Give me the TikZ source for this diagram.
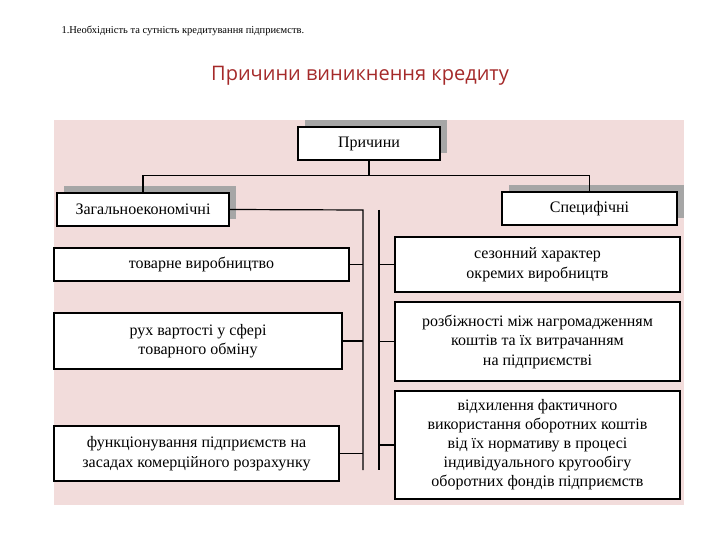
\documentclass[tikz,border=0pt]{standalone}
\usepackage{fontspec}
\setmainfont{Liberation Serif}
\newfontfamily\titlefont{Open Sans}
\definecolor{bgpink}{HTML}{F2DCDB}
\definecolor{shad}{HTML}{A6A6A6}
\definecolor{ttl}{HTML}{A52A2A}
\begin{document}
\begin{tikzpicture}[x=1pt,y=-1pt,
  bx/.style={draw=black,line width=1.2pt,fill=white,align=center,font=\fontsize{16}{19.5}\selectfont,inner sep=0pt},
  ln/.style={line width=1.2pt}]
\useasboundingbox (0,0) rectangle (720,540);
\fill[white] (0,0) rectangle (720,540);
\node[anchor=west,font=\fontsize{10.5}{12}\selectfont] (hdr) at (58,31) {1.Необхідність та сутність кредитування підприємств.};
\node[font=\titlefont\fontsize{20}{24}\selectfont,text=ttl] (ttl) at (360,76) {Причини виникнення кредиту};
\fill[bgpink] (54,120) rectangle (684,505);
% shadows
\fill[shad] (305,120) rectangle (447,153);
\fill[shad] (64,186) rectangle (236,219);
\fill[shad] (509,185) rectangle (684,218);
% boxes
\node[bx,minimum width=142,minimum height=33] (p) at (369,143.5) {Причини};
\node[bx,minimum width=172,minimum height=33] (g) at (143,209.5) {Загальноекономічні};
\node[bx,minimum width=175,minimum height=33] (s) at (589.5,208.5) {Специфічні};
\node[bx,minimum width=295,minimum height=33] (l1) at (201.5,264.5) {товарне виробництво};
\node[bx,minimum width=288,minimum height=56] (l2) at (198,341) {рух вартості у сфері\\товарного обміну};
\node[bx,minimum width=285,minimum height=55] (l3) at (196.5,453.5) {функціонування підприємств на\\засадах комерційного розрахунку};
\node[bx,minimum width=285,minimum height=55] (r1) at (537.5,264.5) {сезонний характер\\окремих виробництв};
\node[bx,minimum width=285,minimum height=79] (r2) at (537.5,341.5) {розбіжності між нагромадженням\\коштів та їх витрачанням\\на підприємстві};
\node[bx,minimum width=285,minimum height=108,font=\fontsize{16}{19}\selectfont] (r3) at (537.5,445) {відхилення фактичного\\використання оборотних коштів\\від їх нормативу в процесі\\індивідуального кругообігу\\оборотних фондів підприємств};
% connectors
\coordinate (lv0) at (363,210);
\coordinate (lv1) at (363,470);
\coordinate (rv0) at (379,210);
\coordinate (rv1) at (379,470);
\draw[ln] (p.south) -- ++(0,15) -| (g.north);
\draw[ln] (p.south) ++(0,15) -| (s.north);
\draw[ln] (g.east) -- (lv0) -- (lv1);
\draw[ln] (rv0) -- (rv1);
\draw[ln] (l1.east) -- (l1.east -| lv0);
\draw[ln] (l2.east) -- (l2.east -| lv0);
\draw[ln] (l3.east) -- (l3.east -| lv0);
\draw[ln] (r1.west) -- (r1.west -| rv0);
\draw[ln] (r2.west) -- (r2.west -| rv0);
\draw[ln] (r3.west) -- (r3.west -| rv0);
\end{tikzpicture}
\end{document}
